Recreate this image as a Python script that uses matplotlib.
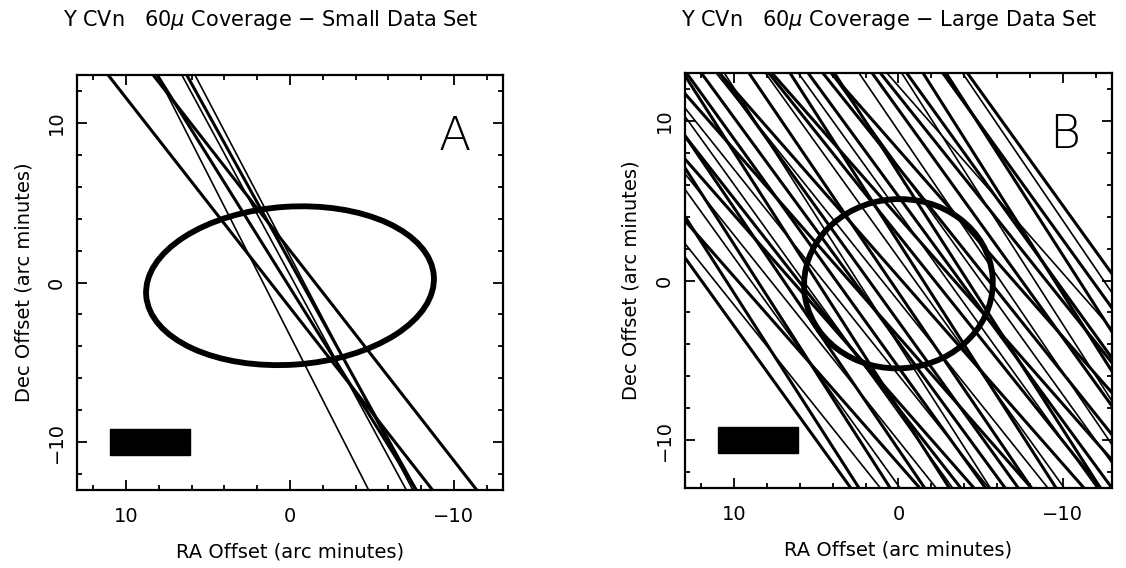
import matplotlib.pyplot as plt
from matplotlib.patches import Ellipse, Rectangle
from matplotlib.ticker import MultipleLocator

# scan tracks, panel A: RA offset where each track crosses Dec=+13 and Dec=-13
a_top = [11.1, 8.35, 8.1, 8.1, 6.6, 5.8, 6.3]
a_bot = [-8.7, -11.4, -7.7, -4.8, -7.1, -7.5, -7.7]
a_thick = [True, True, True, False, False, False, True]

# scan tracks, panel B
b_top = [21.1, 21.3, 18.6, 20.9, 18.1, 16.7, 17.9, 15.6, 17.6, 14.9, 13.1, 14.7,
         12.9, 14.1, 10.6, 10.9, 11.1, 9.1, 10.9, 8.1, 6.6, 7.9, 6.1, 7.7, 3.9,
         4.1, 4.6, 2.4, 4.1, 1.6, -0.2, 1.1, -0.5, 0.7, -2.9, -2.7, -3.9, -4.2,
         16.0, 12.0, 5.5, -1.5]
b_bot = [2.9, 1.1, 2.4, -1.3, -0.1, 0.5, -2.3, -1.6, -4.6, -3.3, -3.1, -5.5,
         -5.3, -8.1, -5.6, -7.3, -9.1, -8.1, -11.3, -10.1, -9.6, -12.3, -12.1,
         -14.5, -12.3, -14.1, -15.6, -14.8, -18.1, -16.6, -16.4, -19.1, -18.7,
         -21.5, -19.1, -20.9, -21.1, -22.4,
         -3.8, -6.5, -13.0, -17.5]
b_thick = [True, False, True, True, False, True, False, True, True, False, True, False,
           True, True, False, True, False, True, True, False, True, True, False, True,
           True, False, True, False, True, True, False, True, True, False, True, True,
           False, True, True, True, True, True]

# source ellipses: centre (RA, Dec), full width, full height, angle
ell_a = (0.0, -0.2, 17.6, 9.9, -4)
ell_b = (0.0, -0.2, 11.5, 10.6, -5)
# scale bar
bar = (11.0, -10.8, 4.9, 1.6)

titles = [r"Y CVn   60$\mu$ Coverage $-$ Small Data Set",
          r"Y CVn   60$\mu$ Coverage $-$ Large Data Set"]
letters = ["A", "B"]

fig = plt.figure(figsize=(11.26, 5.68), dpi=100)
boxes = [[0.0684, 0.1373, 0.3783, 0.7306], [0.6083, 0.1408, 0.3792, 0.7306]]
tracks = [(a_top, a_bot, a_thick), (b_top, b_bot, b_thick)]
ells = [ell_a, ell_b]

for i in range(2):
    ax = fig.add_axes(boxes[i])
    top, bot, thick = tracks[i]
    for xt, xb, th in zip(top, bot, thick):
        ax.plot([xt, xb], [13, -13], color='black', lw=2.2 if th else 1.2,
                solid_capstyle='butt')
    cx, cy, w, h, ang = ells[i]
    ax.add_patch(Ellipse((cx, cy), w, h, angle=ang, fill=False, lw=4.2,
                         edgecolor='black', zorder=3))
    bx, by, bw, bh = bar
    ax.add_patch(Rectangle((bx, by), -bw, bh, color='black', zorder=4))
    ax.text(0.925, 0.85, letters[i], transform=ax.transAxes, ha='right',
            va='center', fontsize=34, fontweight='light')
    ax.set_xlim(13, -13)
    ax.set_ylim(-13, 13)
    ax.xaxis.set_major_locator(MultipleLocator(10))
    ax.xaxis.set_minor_locator(MultipleLocator(2))
    ax.yaxis.set_major_locator(MultipleLocator(10))
    ax.yaxis.set_minor_locator(MultipleLocator(2))
    ax.tick_params(which='both', direction='in', top=True, right=True,
                   labelsize=14, width=1.3)
    ax.tick_params(which='major', length=7)
    ax.tick_params(which='minor', length=3.5)
    ax.tick_params(axis='x', pad=12)
    ax.tick_params(axis='y', pad=8)
    for lab in ax.get_yticklabels():
        lab.set_rotation(90)
        lab.set_va('center')
    for s in ax.spines.values():
        s.set_linewidth(1.6)
    ax.set_xlabel("RA Offset (arc minutes)", fontsize=14, labelpad=12)
    ax.set_ylabel("Dec Offset (arc minutes)", fontsize=14, labelpad=10)

fig.text(0.24, 0.965, titles[0], ha='center', va='center', fontsize=15)
fig.text(0.79, 0.965, titles[1], ha='center', va='center', fontsize=15)

fig.savefig("out.png", dpi=100)
